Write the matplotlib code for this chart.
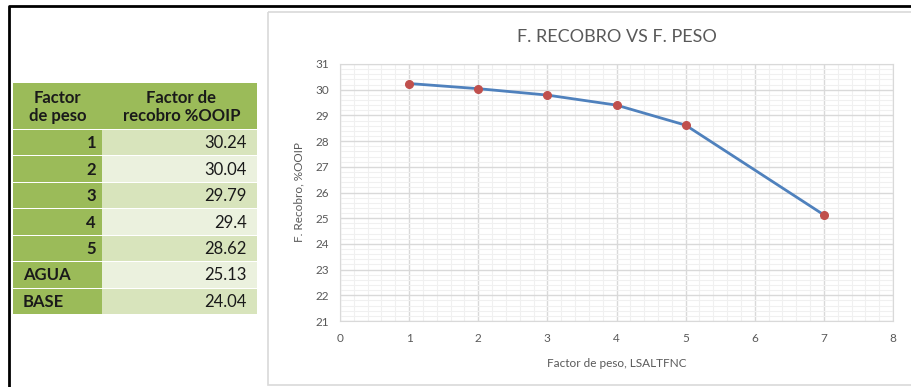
import matplotlib.pyplot as plt
from matplotlib.patches import Rectangle
from matplotlib.ticker import MultipleLocator

# table data
factor_labels = ["1", "2", "3", "4", "5", "AGUA", "BASE"]
recobro = [30.24, 30.04, 29.79, 29.4, 28.62, 25.13, 24.04]

# chart data (AGUA plotted at x = 7)
chart_x = [1, 2, 3, 4, 5, 7]
chart_y = recobro[:6]

W, H = 911, 387
fig = plt.figure(figsize=(W / 100, H / 100), dpi=100)
plt.rcParams['font.family'] = ['Lato', 'DejaVu Sans']

# overlay in pixel coordinates for the frame and the table
bg = fig.add_axes([0, 0, 1, 1])
bg.set_xlim(0, W)
bg.set_ylim(H, 0)
bg.axis("off")

# black frame and chart box
bg.plot([9, 9, W], [H, 6, 6], color="black", lw=2, solid_capstyle="butt")
bg.add_patch(Rectangle((268, 12), 700, 373, fill=False, ec="#d9d9d9", lw=1.2))

# table
x0, xs, x1 = 13, 102, 257
hy0, hy1 = 83, 129
rh = (314 - hy1) / len(factor_labels)
green = "#9bbb59"
fs = 12
bg.add_patch(Rectangle((x0, hy0), x1 - x0, hy1 - hy0, color=green, lw=0))
bg.text((x0 + xs) / 2, (hy0 + hy1) / 2 + 1, "Factor\nde peso", ha="center", va="center",
        fontsize=fs, fontweight="bold", color="#1a1a1a", linespacing=1.2)
bg.text((xs + x1) / 2 + 2, (hy0 + hy1) / 2 + 1, "Factor de\nrecobro %OOIP", ha="center",
        va="center", fontsize=fs, fontweight="bold", color="#1a1a1a", linespacing=1.2)
for i, (lab, val) in enumerate(zip(factor_labels, recobro)):
    top = hy1 + i * rh
    light = "#d8e4bc" if i % 2 == 0 else "#ebf1de"
    bg.add_patch(Rectangle((x0, top + 1), xs - x0, rh - 1, color=green, lw=0))
    bg.add_patch(Rectangle((xs, top + 1), x1 - xs, rh - 1, color=light, lw=0))
    yc = top + rh / 2 + 1
    if lab.isdigit():
        bg.text(xs - 6, yc, lab, ha="right", va="center", fontsize=fs,
                fontweight="bold", color="#1a1a1a")
    else:
        bg.text(x0 + 10, yc, lab, ha="left", va="center", fontsize=fs,
                fontweight="bold", color="#1a1a1a")
    bg.text(x1 - 10, yc, f"{val:g}", ha="right", va="center", fontsize=fs, color="#1a1a1a")

# chart
ax = fig.add_axes([340 / W, 1 - 321 / H, (893 - 340) / W, (321 - 64) / H])
ax.plot(chart_x, chart_y, color="#4f81bd", lw=2, zorder=3)
ax.plot(chart_x, chart_y, "o", color="#c0504d", ms=5.5, zorder=4)
ax.set_xlim(0, 8)
ax.set_ylim(21, 31)
ax.xaxis.set_major_locator(MultipleLocator(1))
ax.yaxis.set_major_locator(MultipleLocator(1))
ax.xaxis.set_minor_locator(MultipleLocator(0.2))
ax.yaxis.set_minor_locator(MultipleLocator(0.2))
ax.grid(which="major", color="#d9d9d9", lw=1)
ax.grid(which="minor", color="#f0f0f0", lw=0.8)
ax.set_axisbelow(True)
for s in ax.spines.values():
    s.set_color("#d9d9d9")
ax.tick_params(which="both", length=0, labelsize=8.5, labelcolor="#595959")
ax.tick_params(axis="x", pad=9)
ax.tick_params(axis="y", pad=8)
ax.set_xlabel("Factor de peso, LSALTFNC", fontsize=8.5, color="#595959", labelpad=10)
ax.set_ylabel("F. Recobro, %OOIP", fontsize=8.5, color="#595959", labelpad=8)
ax.set_title("F. RECOBRO VS F. PESO", fontsize=13, color="#595959", pad=16)

fig.savefig("out.png", dpi=100)
